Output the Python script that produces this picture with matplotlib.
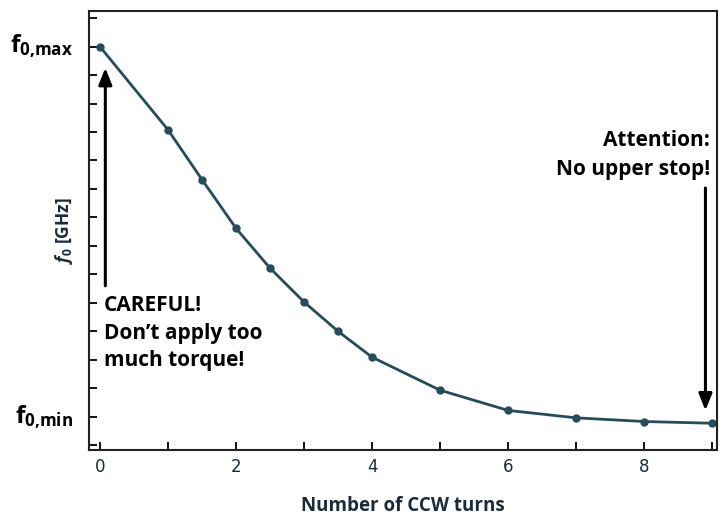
import matplotlib.pyplot as plt
import numpy as np

# turns vs. resonance frequency (normalised: tick units, f0,min ~ 1, f0,max ~ 14)
turns = [0, 1, 1.5, 2, 2.5, 3, 3.5, 4, 5, 6, 7, 8, 9]
f0 = [14.0, 11.08, 9.33, 7.62, 6.22, 5.03, 4.0, 3.09, 1.93, 1.22, 0.96, 0.83, 0.77]

xticks = [0, 2, 4, 6, 8]

line_col = "#264b5a"
txt_font = "Open Sans"

plt.rcParams["mathtext.fontset"] = "custom"
plt.rcParams["mathtext.bf"] = "Open Sans:bold"
plt.rcParams["mathtext.rm"] = "Open Sans:bold"
plt.rcParams["mathtext.it"] = "Open Sans:bold:italic"

fig = plt.figure(figsize=(7.26, 5.17), dpi=100)
ax = fig.add_axes([89 / 726, 1 - 450 / 517, (717 - 89) / 726, (450 - 11) / 517])

ax.plot(turns, f0, color=line_col, lw=2, marker="o", ms=5)

ax.set_xlim(-0.16, 9.07)
ax.set_ylim(-0.17, 15.25)

ax.set_xticks(range(10))
ax.set_xticklabels([str(t) if t in xticks else "" for t in range(10)],
                   fontsize=12, color="#1b2a38", family="DejaVu Sans")
ax.set_yticks(range(16))
ax.set_yticklabels([""] * 16)
ax.tick_params(direction="in", length=6, width=1.3, pad=6)
for s in ax.spines.values():
    s.set_linewidth(1.5)
    s.set_color("#222222")

# f0 labels on the y axis
ax.text(-0.4, 14, r"$\mathbf{f}_{\mathbf{0{,}max}}$", ha="right", va="center",
        fontsize=17.5)
ax.text(-0.4, 1, r"$\mathbf{f}_{\mathbf{0{,}min}}$", ha="right", va="center",
        fontsize=17.5)

ax.set_ylabel(r"$\mathit{f}_0$ [GHz]", fontsize=12.5, color="#1b2a38",
              family=txt_font, weight="bold", labelpad=4)
ax.set_xlabel("Number of CCW turns", fontsize=13.5, color="#1b2a38",
              family=txt_font, weight="bold", labelpad=14)

# arrows
ax.annotate("", xy=(0.08, 13.35), xytext=(0.08, 5.5),
            arrowprops=dict(arrowstyle="-|>,head_width=0.4,head_length=1.0",
                            color="black", lw=2.2))
ax.annotate("", xy=(8.9, 1.12), xytext=(8.9, 9.13),
            arrowprops=dict(arrowstyle="-|>,head_width=0.4,head_length=1.0",
                            color="black", lw=2.2))

ax.text(0.06, 5.28, "CAREFUL!\nDon\u2019t apply too\nmuch torque!", ha="left", va="top",
        fontsize=15, family=txt_font, weight="bold", linespacing=1.42)
ax.text(8.97, 9.3, "Attention:\nNo upper stop!", ha="right", va="bottom",
        fontsize=15, family=txt_font, weight="bold", linespacing=1.5,
        multialignment="right")

fig.savefig("out.png", dpi=100)
